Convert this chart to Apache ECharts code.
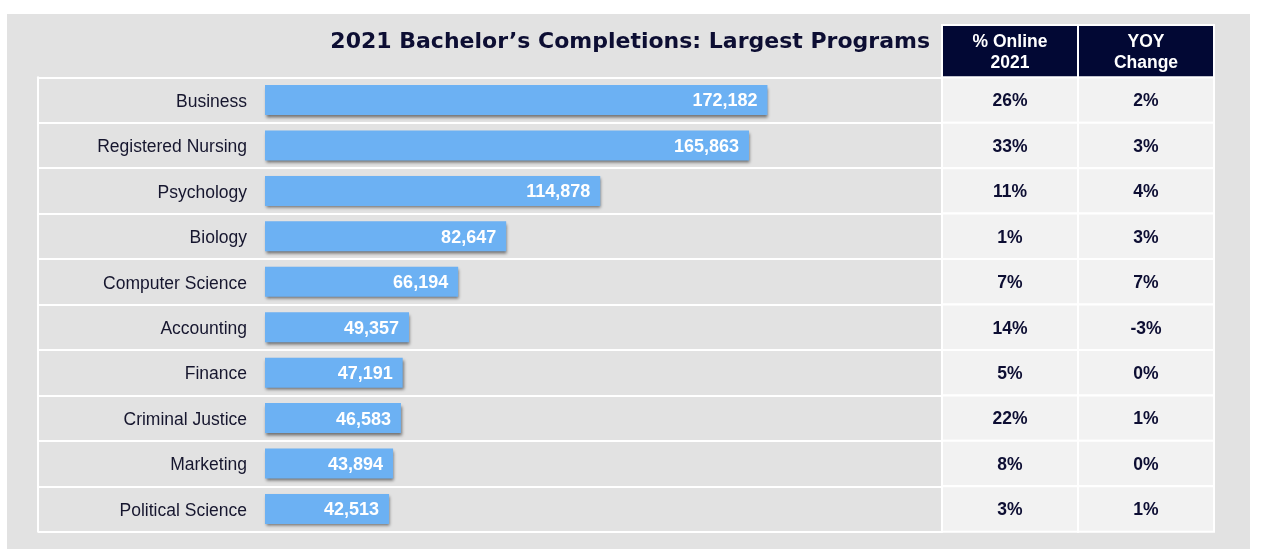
<!DOCTYPE html>
<html>
<head>
<meta charset="utf-8">
<script src="https://cdn.jsdelivr.net/npm/echarts@6/dist/echarts.min.js"></script>
<style>
  html, body { margin: 0; padding: 0; background: #ffffff; }
  #chart { width: 1262px; height: 560px; }
</style>
</head>
<body>
<div id="chart"></div>
<script>
const titleText = '2021 Bachelor’s Completions: Largest Programs';
const categories = ['Business', 'Registered Nursing', 'Psychology', 'Biology', 'Computer Science',
  'Accounting', 'Finance', 'Criminal Justice', 'Marketing', 'Political Science'];
const completions = [172182, 165863, 114878, 82647, 66194, 49357, 47191, 46583, 43894, 42513];
const onlinePct = ['26%', '33%', '11%', '1%', '7%', '14%', '5%', '22%', '8%', '3%'];
const yoyChange = ['2%', '3%', '4%', '3%', '7%', '-3%', '0%', '1%', '0%', '1%'];
const tableHeaders = ['% Online\n2021', 'YOY\nChange'];

const NAVY = '#0d0e33';
const FONT = '"Liberation Sans", Arial, sans-serif';

const columns = [onlinePct, yoyChange];
const tableData = [];
categories.forEach((c, i) => {
  columns.forEach((col, j) => tableData.push([j, i, col[i]]));
});
const headerData = tableHeaders.map((h, j) => [j, 0, h]);

function cellRenderer(source, fill, textColor, fontSize, lineHeight, dy) {
  return function (params, api) {
    const c = api.coord([api.value(0), api.value(1)]);
    const s = api.size([1, 1]);
    return {
      type: 'group',
      children: [
        {
          type: 'rect',
          shape: { x: c[0] - s[0] / 2, y: c[1] - s[1] / 2, width: s[0], height: s[1] },
          style: { fill: fill, stroke: '#ffffff', lineWidth: 2 }
        },
        {
          type: 'text',
          x: c[0], y: c[1] + dy,
          style: {
            text: source[params.dataIndex][2],
            fill: textColor,
            fontFamily: FONT,
            fontWeight: 'bold',
            fontSize: fontSize,
            lineHeight: lineHeight,
            align: 'center',
            verticalAlign: 'middle'
          }
        }
      ]
    };
  };
}

const chart = echarts.init(document.getElementById('chart'));
chart.setOption({
  backgroundColor: '#ffffff',
  animation: false,
  graphic: [{
    type: 'rect', left: 7, top: 14, z: -10,
    shape: { width: 1243, height: 535 },
    style: { fill: '#e2e2e2' }
  }],
  title: {
    text: titleText,
    right: 332, top: 31, padding: 0,
    textStyle: { fontFamily: '"DejaVu Sans", sans-serif', fontWeight: 'bold', fontSize: 22, color: NAVY }
  },
  grid: [
    { left: 265, top: 77.3, width: 677, height: 454.4 },
    { left: 942, top: 77.3, width: 272, height: 454.4 },
    { left: 942, top: 25, width: 272, height: 52.3 }
  ],
  xAxis: [
    { gridIndex: 0, type: 'value', min: 0, max: 232000,
      axisLine: { show: true, onZero: false, lineStyle: { color: '#ffffff', width: 2 } },
      axisTick: { show: false }, axisLabel: { show: false }, splitLine: { show: false } },
    { gridIndex: 1, type: 'category', data: tableHeaders, show: false },
    { gridIndex: 2, type: 'category', data: tableHeaders, show: false }
  ],
  yAxis: [
    { gridIndex: 0, type: 'category', data: categories, inverse: true,
      axisLine: { show: false },
      axisTick: { show: true, length: 227, lineStyle: { color: '#ffffff', width: 2 } },
      axisLabel: { margin: 18, fontSize: 17.5, color: '#16162e', fontFamily: FONT,
        verticalAlign: 'top', lineHeight: 4 },
      splitLine: { show: true, lineStyle: { color: '#ffffff', width: 2 } } },
    { gridIndex: 0, type: 'value', position: 'left', offset: 227, min: 0, max: 1,
      axisLine: { show: true, lineStyle: { color: '#ffffff', width: 2 } },
      axisTick: { show: false }, axisLabel: { show: false }, splitLine: { show: false } },
    { gridIndex: 1, type: 'category', data: categories, inverse: true, show: false },
    { gridIndex: 2, type: 'category', data: ['header'], show: false }
  ],
  series: [
    {
      type: 'bar', xAxisIndex: 0, yAxisIndex: 0,
      data: completions,
      barWidth: 30,
      itemStyle: {
        color: '#6cb1f3',
        shadowColor: 'rgba(0,0,0,0.5)', shadowBlur: 3, shadowOffsetX: 1, shadowOffsetY: 2.5
      },
      label: {
        show: true, position: 'insideRight', distance: 10, offset: [0, 1.5],
        formatter: p => p.value.toLocaleString('en-US'),
        color: '#ffffff', fontWeight: 'bold', fontSize: 18, fontFamily: FONT
      }
    },
    {
      type: 'custom', xAxisIndex: 1, yAxisIndex: 2,
      data: tableData,
      encode: { x: 0, y: 1 },
      renderItem: cellRenderer(tableData, '#f2f2f2', NAVY, 17.5, 20, 1.5)
    },
    {
      type: 'custom', xAxisIndex: 2, yAxisIndex: 3,
      data: headerData,
      encode: { x: 0, y: 1 },
      renderItem: cellRenderer(headerData, '#020834', '#ffffff', 17.5, 21, 1.5)
    }
  ]
});
</script>
</body>
</html>
